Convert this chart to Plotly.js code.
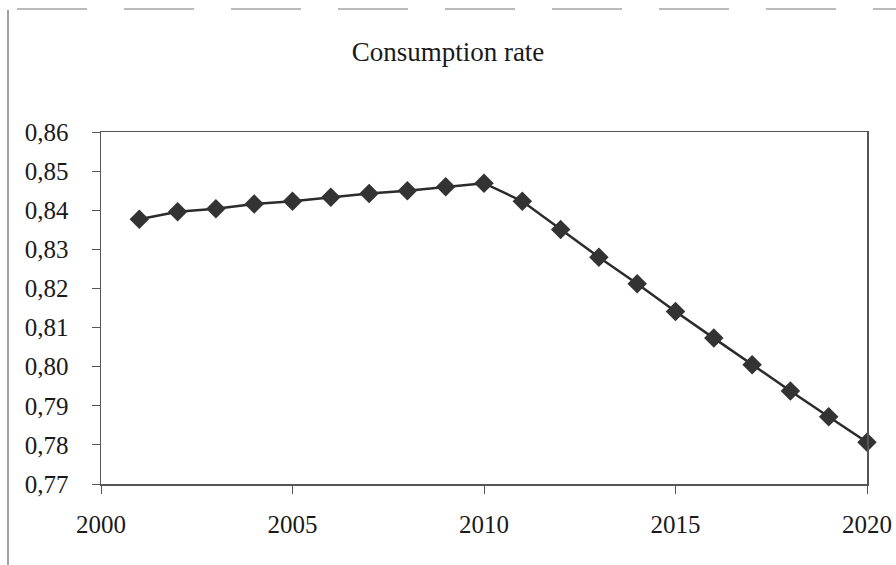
<!DOCTYPE html>
<html>
<head>
<meta charset="utf-8">
<script src="https://cdn.plot.ly/plotly-3.0.1.min.js"></script>
<style>html,body{margin:0;padding:0;background:#fff;}#chart{width:896px;height:565px;}</style>
</head>
<body>
<div id="chart"></div>
<script>
var years = [2001,2002,2003,2004,2005,2006,2007,2008,2009,2010,2011,2012,2013,2014,2015,2016,2017,2018,2019,2020];
var consumptionRate = [0.8377,0.8396,0.8404,0.8416,0.8423,0.8433,0.8443,0.8450,0.8460,0.8469,0.8423,0.8351,0.8280,0.8212,0.8141,0.8073,0.8005,0.7938,0.7872,0.7807];
var xTicks = [2000,2005,2010,2015,2020];
var yTicks = [0.77,0.78,0.79,0.80,0.81,0.82,0.83,0.84,0.85,0.86];

var fam = '"Liberation Serif", "Times New Roman", serif';

var trace = {
  x: years, y: consumptionRate, type: 'scatter', mode: 'lines+markers',
  line: {color: '#2b2b2b', width: 2.5},
  marker: {symbol: 'diamond', size: 15, color: '#333333'},
  cliponaxis: false, showlegend: false
};

var layout = {
  width: 896, height: 565,
  margin: {l: 101, r: 29, t: 132, b: 81},
  paper_bgcolor: '#fff', plot_bgcolor: '#fff',
  separators: ',.',
  font: {family: fam, color: '#1a1a1a', size: 25},
  title: {text: 'Consumption rate', font: {family: fam, size: 27, color: '#1a1a1a'},
          x: 0.5, xanchor: 'center', xref: 'container', y: 1 - 52/565, yanchor: 'middle'},
  xaxis: {range: [2000, 2020], tickvals: xTicks, ticktext: xTicks.map(String),
          ticks: 'outside', ticklen: 8, tickcolor: '#555', tickwidth: 1,
          ticklabelstandoff: 9,
          showline: true, linecolor: '#555', linewidth: 1.5, mirror: true,
          showgrid: false, zeroline: false, tickfont: {size: 25, family: fam, color: '#1a1a1a'}},
  yaxis: {range: [0.77, 0.86], tickvals: yTicks, tickformat: '.2f',
          ticks: 'outside', ticklen: 8, tickcolor: '#555', tickwidth: 1,
          ticklabelstandoff: 18,
          showline: true, linecolor: '#555', linewidth: 1.5, mirror: true,
          showgrid: false, zeroline: false, tickfont: {size: 25, family: fam, color: '#1a1a1a'}},
  shapes: [
    {type: 'line', xref: 'paper', yref: 'paper', x0: (17-101)/766, x1: (896-101)/766, y0: (484-9)/352, y1: (484-9)/352,
     line: {color: '#777', width: 1.2, dash: '70px,37px'}},
    {type: 'line', xref: 'paper', yref: 'paper', x0: (8-101)/766, x1: (8-101)/766, y0: (484-10)/352, y1: (484-565)/352,
     line: {color: '#666', width: 1.2}}
  ]
};

Plotly.newPlot('chart', [trace], layout, {displayModeBar: false, staticPlot: true});
</script>
</body>
</html>
